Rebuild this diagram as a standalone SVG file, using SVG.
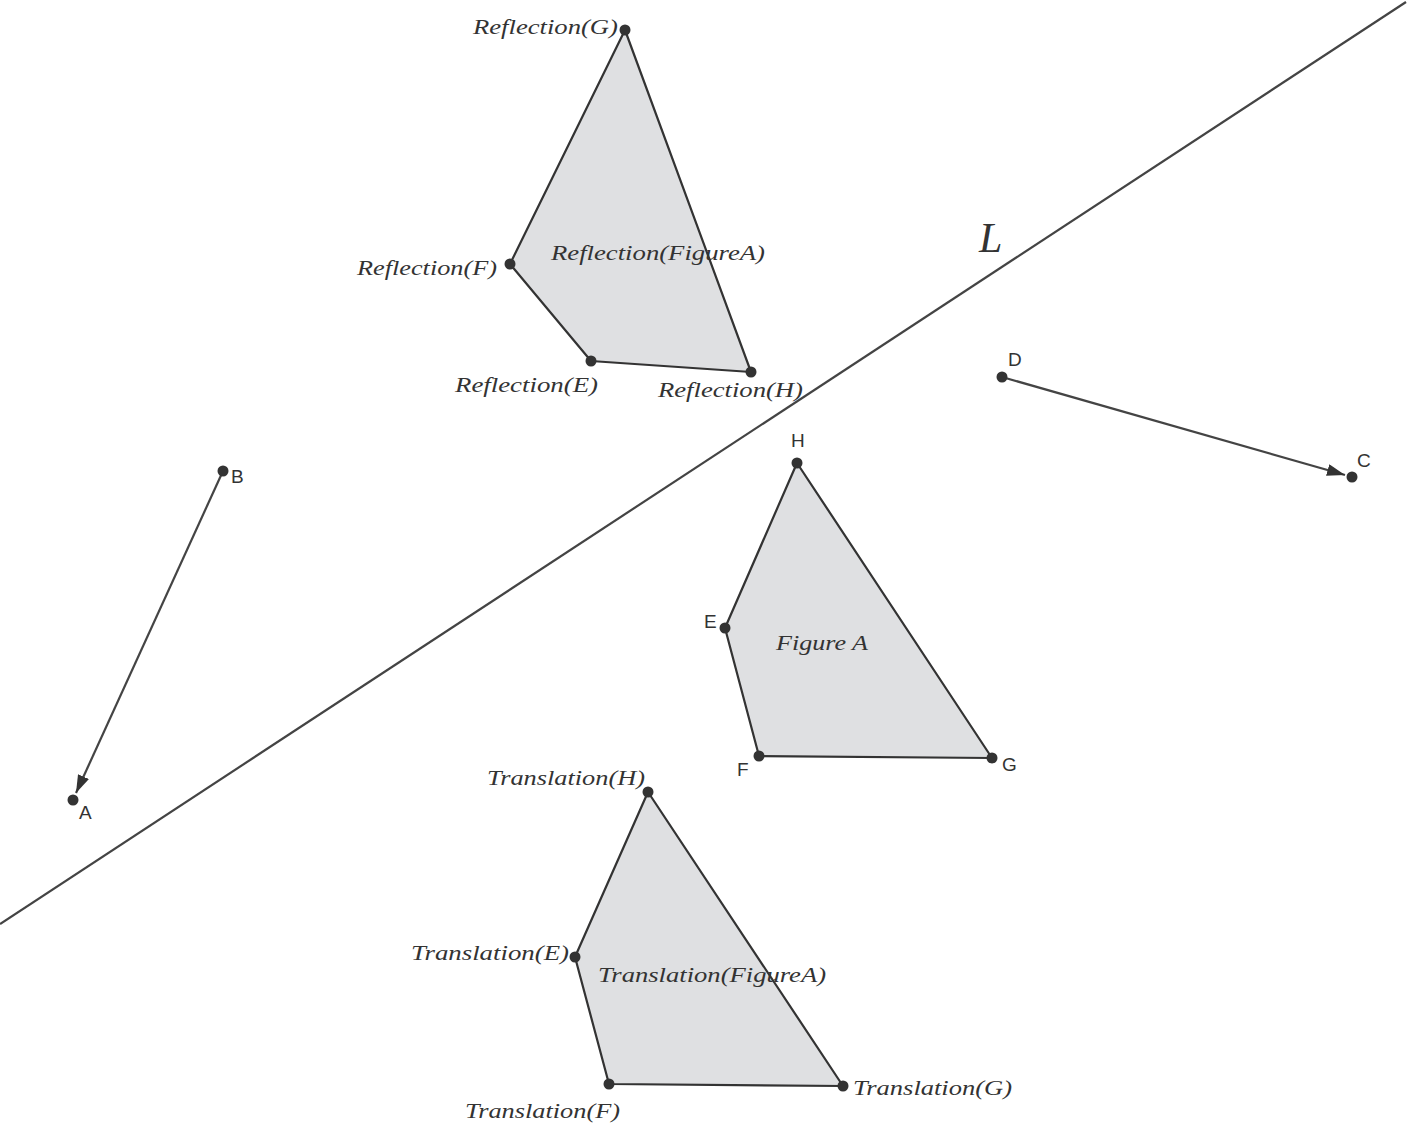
<svg xmlns="http://www.w3.org/2000/svg" width="1413" height="1132" viewBox="0 0 1413 1132">
<defs>
<style>
.poly{fill:#dfe0e2;stroke:#333;stroke-width:2.2;stroke-linejoin:round}
.ln{stroke:#444;stroke-width:2.2;fill:none}
.pt{fill:#333}
.it{font-family:"Liberation Serif",serif;font-style:italic;font-size:22px;fill:#333}
.sn{font-family:"Liberation Sans",sans-serif;font-size:19px;fill:#333}
.big{font-size:42px}
</style>
<marker id="ah" viewBox="0 0 18 12" refX="18" refY="6" markerWidth="18" markerHeight="12" markerUnits="userSpaceOnUse" orient="auto">
<path d="M0,0 L18,6 L0,12 Z" fill="#333"/>
</marker>
</defs>
<rect width="1413" height="1132" fill="#fff"/>
<g id="connectors">
<line id="lineL" class="ln" x1="0" y1="924" x2="1406" y2="2"/>
<line id="vecBA" class="ln" x1="223" y1="471" x2="76" y2="793" marker-end="url(#ah)"/>
<line id="vecDC" class="ln" x1="1002" y1="377" x2="1345" y2="475" marker-end="url(#ah)"/>
</g>
<g id="reflection">
<polygon class="poly" points="625,30 510,264 591,361 751,372"/>
<circle class="pt" cx="625" cy="30" r="5.5"/>
<circle class="pt" cx="510" cy="264" r="5.5"/>
<circle class="pt" cx="591" cy="361" r="5.5"/>
<circle class="pt" cx="751" cy="372" r="5.5"/>
<text class="it" x="473" y="34" textLength="145" lengthAdjust="spacingAndGlyphs">Reflection(G)</text>
<text class="it" x="357" y="275" textLength="140" lengthAdjust="spacingAndGlyphs">Reflection(F)</text>
<text class="it" x="455" y="392" textLength="143" lengthAdjust="spacingAndGlyphs">Reflection(E)</text>
<text class="it" x="658" y="397" textLength="145" lengthAdjust="spacingAndGlyphs">Reflection(H)</text>
<text class="it" x="551" y="260" textLength="214" lengthAdjust="spacingAndGlyphs">Reflection(FigureA)</text>
</g>
<g id="figureA">
<polygon class="poly" points="797,463 725,628 759,756 992,758"/>
<circle class="pt" cx="797" cy="463" r="5.5"/>
<circle class="pt" cx="725" cy="628" r="5.5"/>
<circle class="pt" cx="759" cy="756" r="5.5"/>
<circle class="pt" cx="992" cy="758" r="5.5"/>
<text class="sn" x="791" y="447">H</text>
<text class="sn" x="704" y="628">E</text>
<text class="sn" x="737" y="776">F</text>
<text class="sn" x="1002" y="771">G</text>
<text class="it" x="776" y="650" textLength="92" lengthAdjust="spacingAndGlyphs">Figure A</text>
</g>
<g id="translation">
<polygon class="poly" points="648,792 575,957 609,1084 843,1086"/>
<circle class="pt" cx="648" cy="792" r="5.5"/>
<circle class="pt" cx="575" cy="957" r="5.5"/>
<circle class="pt" cx="609" cy="1084" r="5.5"/>
<circle class="pt" cx="843" cy="1086" r="5.5"/>
<text class="it" x="487" y="785" textLength="158" lengthAdjust="spacingAndGlyphs">Translation(H)</text>
<text class="it" x="411" y="960" textLength="158" lengthAdjust="spacingAndGlyphs">Translation(E)</text>
<text class="it" x="598" y="982" textLength="228" lengthAdjust="spacingAndGlyphs">Translation(FigureA)</text>
<text class="it" x="465" y="1118" textLength="155" lengthAdjust="spacingAndGlyphs">Translation(F)</text>
<text class="it" x="853" y="1095" textLength="159" lengthAdjust="spacingAndGlyphs">Translation(G)</text>
</g>
<g id="points">
<circle class="pt" cx="223" cy="471" r="5.5"/>
<circle class="pt" cx="73" cy="800" r="5.5"/>
<circle class="pt" cx="1002" cy="377" r="5.5"/>
<circle class="pt" cx="1352" cy="477" r="5.5"/>
<text class="sn" x="231" y="483">B</text>
<text class="sn" x="79" y="819">A</text>
<text class="sn" x="1008" y="366">D</text>
<text class="sn" x="1357" y="467">C</text>
<text class="it big" x="979" y="252">L</text>
</g>
</svg>
